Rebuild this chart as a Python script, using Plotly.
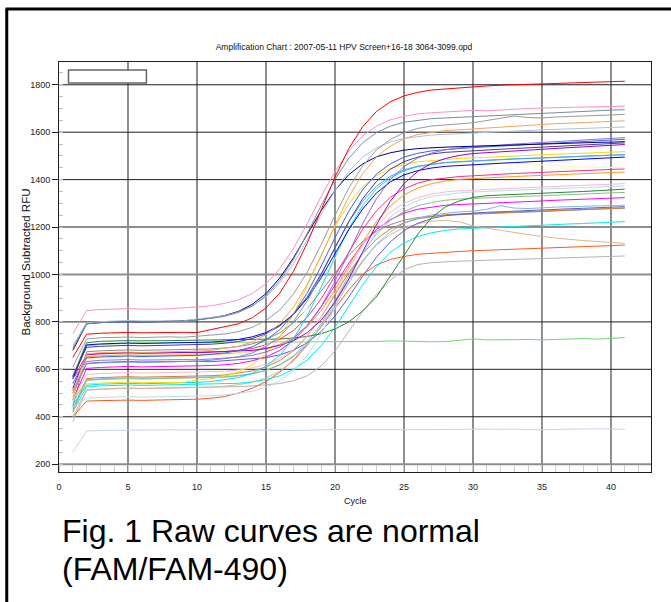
import plotly.graph_objects as go

# ---------------- data ----------------
CYCLES = list(range(1, 42))
X_TICKS = [0, 5, 10, 15, 20, 25, 30, 35, 40]
Y_TICKS = [200, 400, 600, 800, 1000, 1200, 1400, 1600, 1800]
GRAY_GRID_X = [10, 25, 40]
GRAY_GRID_Y = [200, 1000, 1200]

PALESTEEL = [250, 340, 342, 343, 344, 343, 344, 345, 344, 343,
             344, 345, 344, 346, 345, 343, 342, 343, 345, 346,
             345, 346, 347, 346, 345, 346, 347, 348, 347, 347,
             348, 347, 348, 345, 344, 346, 348, 349, 350, 349, 347]
LIGHTGREEN = [560, 700, 705, 708, 710, 712, 711, 713, 714, 712,
              714, 713, 715, 714, 716, 716, 715, 717, 716, 717,
              716, 718, 717, 720, 718, 716, 716, 717, 722, 728,
              724, 723, 725, 726, 724, 726, 727, 730, 727, 729, 734]
SILVER = [380, 512, 516, 519, 520, 519, 520, 521, 520, 522,
          523, 525, 527, 530, 534, 540, 552, 573, 614, 678,
          760, 843, 915, 975, 1020, 1042, 1050, 1054, 1056, 1058,
          1060, 1062, 1064, 1066, 1068, 1070, 1072, 1073, 1075, 1076, 1078]
ORANGERED = [400, 466, 468, 470, 470, 469, 470, 471, 472, 474,
             478, 485, 500, 520, 548, 588, 640, 705, 780, 858,
             935, 1000, 1040, 1063, 1076, 1085, 1090, 1094, 1097, 1100,
             1102, 1104, 1106, 1108, 1110, 1113, 1115, 1117, 1119, 1121, 1124]
TAN = [400, 513, 517, 520, 521, 519, 520, 522, 521, 522,
       525, 529, 535, 546, 563, 592, 636, 700, 784, 880,
       976, 1060, 1124, 1168, 1197, 1214, 1225, 1228, 1222, 1205,
       1195, 1185, 1176, 1168, 1160, 1153, 1148, 1143, 1138, 1134, 1131]
AQUA = [420, 526, 530, 533, 534, 532, 533, 535, 534, 535,
        536, 538, 541, 547, 557, 573, 600, 640, 700, 777,
        867, 956, 1033, 1093, 1133, 1160, 1176, 1186, 1192, 1195,
        1197, 1200, 1203, 1205, 1208, 1210, 1213, 1215, 1218, 1220, 1223]
DARKGRAY = [440, 674, 678, 681, 682, 680, 681, 683, 682, 684,
            686, 690, 696, 707, 726, 754, 797, 856, 929, 1007,
            1080, 1139, 1182, 1210, 1229, 1240, 1246, 1250, 1252, 1255,
            1257, 1259, 1261, 1263, 1266, 1268, 1270, 1273, 1275, 1278, 1280]
PERU = [430, 561, 565, 568, 569, 567, 568, 570, 569, 570,
        573, 576, 583, 593, 610, 637, 679, 741, 821, 914,
        1007, 1087, 1149, 1191, 1218, 1235, 1245, 1252, 1255, 1257,
        1260, 1262, 1264, 1266, 1268, 1270, 1272, 1274, 1276, 1278, 1280]
SLATEBLUE = [510, 625, 629, 632, 633, 631, 632, 634, 633, 634,
             632, 636, 638, 642, 649, 661, 681, 712, 760, 825,
             905, 992, 1072, 1137, 1185, 1216, 1236, 1248, 1255, 1259,
             1262, 1265, 1268, 1270, 1273, 1275, 1277, 1279, 1281, 1284, 1286]
LIGHTSKYBLUE = [460, 556, 560, 563, 564, 562, 563, 565, 564, 565,
                567, 569, 574, 582, 596, 618, 653, 706, 779, 868,
                965, 1054, 1127, 1180, 1215, 1237, 1251, 1259, 1264, 1267,
                1275, 1290, 1280, 1278, 1282, 1284, 1286, 1287, 1289, 1290, 1292]
MAGENTA = [470, 604, 608, 611, 612, 610, 611, 613, 612, 613,
           616, 619, 625, 636, 652, 680, 722, 783, 863, 956,
           1048, 1128, 1189, 1231, 1259, 1275, 1285, 1292, 1295, 1297,
           1300, 1303, 1305, 1308, 1310, 1313, 1315, 1317, 1319, 1322, 1324]
DARKSEAGREEN = [420, 553, 557, 560, 561, 559, 560, 562, 561, 562,
                564, 567, 572, 581, 595, 620, 657, 715, 793, 890,
                995, 1092, 1170, 1228, 1265, 1290, 1304, 1313, 1318, 1321,
                1324, 1326, 1328, 1330, 1332, 1335, 1337, 1339, 1341, 1344, 1346]
DARKGREEN = [570, 712, 718, 720, 721, 720, 722, 721, 722, 723,
             722, 724, 723, 725, 727, 728, 732, 739, 750, 770,
             800, 846, 905, 990, 1080, 1170, 1240, 1285, 1310, 1325,
             1332, 1335, 1337, 1339, 1341, 1344, 1347, 1350, 1353, 1356, 1360]
PALEBLUE = [440, 478, 481, 484, 485, 483, 484, 486, 485, 486,
            488, 492, 498, 507, 524, 552, 594, 659, 749, 859,
            977, 1087, 1177, 1242, 1284, 1312, 1329, 1338, 1344, 1348,
            1351, 1354, 1356, 1358, 1360, 1362, 1365, 1367, 1369, 1371, 1373]
LIGHTPINK = [470, 578, 582, 585, 586, 584, 585, 587, 586, 587,
             589, 592, 597, 606, 621, 645, 683, 742, 821, 920,
             1025, 1124, 1203, 1262, 1300, 1324, 1339, 1348, 1353, 1356,
             1359, 1362, 1364, 1366, 1369, 1371, 1374, 1376, 1378, 1381, 1383]
DARKORANGE = [480, 653, 657, 660, 661, 659, 660, 662, 661, 660,
              663, 665, 669, 676, 687, 705, 735, 781, 848, 935,
              1035, 1136, 1223, 1289, 1335, 1365, 1383, 1394, 1401, 1405,
              1407, 1410, 1413, 1415, 1418, 1420, 1423, 1425, 1427, 1430, 1432]
DEEPPINK = [560, 661, 665, 668, 669, 667, 668, 670, 669, 670,
            672, 675, 680, 688, 703, 727, 764, 820, 897, 993,
            1095, 1191, 1268, 1325, 1361, 1385, 1400, 1408, 1413, 1416,
            1420, 1423, 1426, 1428, 1431, 1434, 1436, 1438, 1440, 1443, 1445]
LEMON = [520, 643, 647, 650, 651, 649, 650, 652, 651, 653,
         656, 660, 667, 680, 700, 733, 784, 858, 954, 1065,
         1176, 1273, 1346, 1397, 1430, 1450, 1463, 1470, 1474, 1476,
         1475, 1472, 1468, 1464, 1460, 1457, 1455, 1453, 1452, 1451, 1450]
CYAN = [450, 533, 537, 540, 541, 539, 540, 542, 541, 545,
        548, 555, 565, 583, 613, 659, 730, 827, 946, 1074,
        1193, 1290, 1361, 1407, 1437, 1455, 1465, 1472, 1475, 1479,
        1482, 1485, 1488, 1490, 1493, 1495, 1497, 1499, 1501, 1503, 1505]
BLUE = [560, 703, 707, 710, 711, 709, 710, 712, 711, 713,
        715, 719, 726, 737, 755, 786, 832, 899, 986, 1088,
        1189, 1276, 1343, 1390, 1420, 1438, 1449, 1456, 1460, 1462,
        1466, 1469, 1472, 1475, 1478, 1481, 1484, 1487, 1490, 1492, 1495]
CORNFLOWER = [500, 623, 627, 630, 631, 629, 630, 632, 631, 634,
              638, 644, 653, 669, 696, 738, 802, 889, 997, 1113,
              1221, 1308, 1372, 1414, 1441, 1457, 1466, 1472, 1476, 1479,
              1481, 1484, 1486, 1489, 1491, 1494, 1496, 1498, 1500, 1503, 1505]
GOLD = [480, 538, 542, 545, 546, 544, 545, 546, 545, 554,
        560, 571, 588, 619, 665, 736, 833, 953, 1082, 1202,
        1299, 1370, 1416, 1447, 1464, 1475, 1481, 1485, 1489, 1492,
        1495, 1497, 1500, 1502, 1505, 1507, 1509, 1512, 1514, 1516, 1518]
DARKVIOLET = [520, 663, 667, 670, 671, 669, 670, 672, 671, 670,
              672, 673, 676, 680, 688, 701, 721, 755, 807, 883,
              981, 1095, 1209, 1308, 1383, 1435, 1469, 1489, 1502, 1510,
              1514, 1517, 1521, 1525, 1528, 1532, 1535, 1538, 1541, 1545, 1548]
DARKSLATEBLUE = [570, 693, 697, 700, 701, 699, 700, 702, 701, 703,
                 706, 710, 717, 730, 750, 783, 833, 906, 1002, 1113,
                 1223, 1319, 1392, 1443, 1476, 1495, 1508, 1515, 1519, 1522,
                 1525, 1528, 1531, 1534, 1537, 1540, 1543, 1546, 1549, 1552, 1555]
ROYALBLUE = [540, 648, 652, 655, 656, 654, 655, 657, 656, 659,
             663, 669, 679, 695, 724, 767, 833, 923, 1035, 1155,
             1267, 1357, 1423, 1466, 1495, 1511, 1521, 1527, 1531, 1535,
             1538, 1541, 1544, 1548, 1551, 1554, 1557, 1560, 1563, 1567, 1570]
MEDIUMPURPLE = [560, 633, 638, 640, 641, 639, 640, 642, 641, 640,
                644, 646, 651, 659, 673, 694, 731, 786, 866, 971,
                1093, 1214, 1319, 1399, 1455, 1491, 1512, 1526, 1534, 1539,
                1542, 1546, 1550, 1553, 1557, 1561, 1564, 1567, 1570, 1574, 1577]
NAVY = [680, 792, 797, 800, 801, 799, 800, 802, 805, 809,
        816, 827, 844, 874, 919, 985, 1071, 1170, 1269, 1355,
        1421, 1466, 1496, 1513, 1524, 1531, 1535, 1537, 1539, 1541,
        1543, 1545, 1547, 1548, 1550, 1552, 1553, 1555, 1557, 1558, 1560]
LIGHTSTEEL = [700, 797, 801, 805, 806, 804, 805, 806, 804, 812,
              818, 826, 841, 867, 905, 965, 1046, 1146, 1254, 1354,
              1435, 1495, 1533, 1559, 1574, 1582, 1588, 1591, 1594, 1597,
              1600, 1603, 1606, 1608, 1610, 1612, 1614, 1616, 1618, 1620, 1622]
SANDYBROWN = [500, 665, 670, 672, 673, 671, 672, 674, 673, 677,
              680, 687, 697, 715, 746, 792, 862, 960, 1079, 1208,
              1327, 1425, 1495, 1541, 1572, 1590, 1600, 1607, 1610, 1614,
              1618, 1622, 1625, 1628, 1632, 1636, 1638, 1640, 1643, 1646, 1648]
GRAY = [610, 728, 733, 735, 736, 734, 736, 737, 735, 740,
        743, 749, 759, 777, 806, 850, 918, 1011, 1126, 1249,
        1364, 1457, 1525, 1569, 1598, 1616, 1626, 1632, 1635, 1640,
        1650, 1660, 1668, 1662, 1660, 1664, 1666, 1668, 1670, 1672, 1675]
SLATEGRAY = [690, 792, 797, 800, 801, 799, 800, 802, 801, 808,
             814, 823, 840, 867, 910, 975, 1064, 1174, 1291, 1401,
             1490, 1555, 1598, 1625, 1642, 1651, 1657, 1660, 1663, 1666,
             1669, 1672, 1675, 1677, 1680, 1682, 1685, 1688, 1690, 1693, 1695]
PINK = [750, 848, 852, 855, 856, 854, 853, 856, 858, 863,
        868, 878, 893, 920, 961, 1024, 1110, 1216, 1329, 1435,
        1521, 1584, 1625, 1652, 1667, 1677, 1682, 1686, 1689, 1692,
        1690, 1694, 1697, 1700, 1702, 1703, 1705, 1706, 1708, 1709, 1710]
RED = [650, 748, 752, 755, 756, 754, 755, 757, 756, 755,
       767, 777, 792, 817, 859, 922, 1014, 1134, 1273, 1411,
       1531, 1623, 1687, 1728, 1753, 1768, 1778, 1783, 1786, 1790,
       1795, 1798, 1800, 1803, 1805, 1806, 1808, 1810, 1812, 1813, 1815]

SERIES = [
    ("PALESTEEL", PALESTEEL), ("LIGHTGREEN", LIGHTGREEN), ("SILVER", SILVER),
    ("ORANGERED", ORANGERED), ("TAN", TAN), ("AQUA", AQUA), ("DARKGRAY", DARKGRAY),
    ("PERU", PERU), ("SLATEBLUE", SLATEBLUE), ("LIGHTSKYBLUE", LIGHTSKYBLUE),
    ("MAGENTA", MAGENTA), ("DARKSEAGREEN", DARKSEAGREEN), ("DARKGREEN", DARKGREEN),
    ("PALEBLUE", PALEBLUE), ("LIGHTPINK", LIGHTPINK), ("DARKORANGE", DARKORANGE),
    ("DEEPPINK", DEEPPINK), ("LEMON", LEMON), ("CYAN", CYAN), ("BLUE", BLUE),
    ("CORNFLOWER", CORNFLOWER), ("GOLD", GOLD), ("DARKVIOLET", DARKVIOLET),
    ("DARKSLATEBLUE", DARKSLATEBLUE), ("ROYALBLUE", ROYALBLUE),
    ("MEDIUMPURPLE", MEDIUMPURPLE), ("NAVY", NAVY), ("LIGHTSTEEL", LIGHTSTEEL),
    ("SANDYBROWN", SANDYBROWN), ("GRAY", GRAY), ("SLATEGRAY", SLATEGRAY),
    ("PINK", PINK), ("RED", RED),
]

# ---------------- styles ----------------
COLORS = {
    "PALESTEEL": "#c4d4e8", "LIGHTGREEN": "#6fd86f", "SILVER": "#b4b4b4",
    "ORANGERED": "#ff5a1e", "TAN": "#d8b890", "AQUA": "#00eeee", "DARKGRAY": "#8c8c8c",
    "PERU": "#cd7f3a", "SLATEBLUE": "#6a5acd", "LIGHTSKYBLUE": "#7ab8f5",
    "MAGENTA": "#ff00ff", "DARKSEAGREEN": "#8fbc8f", "DARKGREEN": "#2a8a2a",
    "PALEBLUE": "#b8dcea", "LIGHTPINK": "#ffb6c8", "DARKORANGE": "#ff9a1a",
    "DEEPPINK": "#ff2a8a", "LEMON": "#fff5b0", "CYAN": "#00e0ff", "BLUE": "#0000ff",
    "CORNFLOWER": "#6495ed", "GOLD": "#ffd700", "DARKVIOLET": "#9400d3",
    "DARKSLATEBLUE": "#483d8b", "ROYALBLUE": "#3c64e6", "MEDIUMPURPLE": "#9370db",
    "NAVY": "#00007f", "LIGHTSTEEL": "#a9c2de", "SANDYBROWN": "#f4a460",
    "GRAY": "#9a9a9a", "SLATEGRAY": "#7a8ca0", "PINK": "#ff8fc8", "RED": "#ff0000",
}

W, H = 671, 602
L, R, T, B = 58.5, 20, 62, 130
PW, PH = W - L - R, H - T - B


def px_x(px):
    return (px - L) / PW


def px_y(py):
    return (H - B - py) / PH


FONT = "Liberation Sans, Arial, Helvetica, sans-serif"
DARK = "#1e1e1e"
GRAYLINE = "#8e8e8e"

fig = go.Figure()
for name, vals in SERIES:
    fig.add_trace(go.Scatter(x=CYCLES, y=vals, mode="lines", name=name,
                             line=dict(color=COLORS[name], width=1),
                             hoverinfo="skip", showlegend=False))

fig.update_layout(
    width=W, height=H,
    margin=dict(l=L, r=R, t=T, b=B, pad=0, autoexpand=False),
    paper_bgcolor="white", plot_bgcolor="white",
    font=dict(family=FONT, color="#111111"),
    showlegend=False,
    title=dict(text="Amplification Chart : 2007-05-11 HPV Screen+16-18 3064-3099.opd",
               x=344 / W, xref="container", xanchor="center",
               y=1 - 47 / H, yref="container", yanchor="middle",
               font=dict(size=8.5, family=FONT, color="#111111")),
    xaxis=dict(range=[0, 42.9], tickvals=X_TICKS, ticks="",
               showgrid=False, zeroline=False,
               showline=True, linecolor=DARK, linewidth=1, mirror=True,
               tickfont=dict(size=9, color="#222222"), ticklabelstandoff=6,
               minor=dict(ticks="inside", dtick=1, tick0=0, ticklen=7,
                          tickcolor="#cfcfcf", tickwidth=1, showgrid=False)),
    yaxis=dict(range=[167, 1896], tickvals=Y_TICKS, ticks="outside", ticklen=6,
               tickcolor=DARK, tickwidth=1,
               showgrid=False, zeroline=False,
               showline=True, linecolor=DARK, linewidth=1, mirror=True,
               tickfont=dict(size=9, color="#222222"),
               minor=dict(ticks="inside", dtick=50, tick0=0, ticklen=4,
                          tickcolor="#c0c0c0", tickwidth=1, showgrid=False)),
)

# gridlines: thin dark ones, plus wider grey ones at every third step
for gx in X_TICKS[1:]:
    gray = gx in GRAY_GRID_X
    fig.add_shape(type="line", xref="x", yref="paper", x0=gx, x1=gx, y0=0, y1=1,
                  line=dict(color=GRAYLINE if gray else DARK, width=2 if gray else 1),
                  layer="below")
for gy in Y_TICKS:
    gray = gy in GRAY_GRID_Y
    fig.add_shape(type="line", xref="paper", yref="y", x0=0, x1=1, y0=gy, y1=gy,
                  line=dict(color=GRAYLINE if gray else DARK, width=2 if gray else 1),
                  layer="below")

# empty legend box
fig.add_shape(type="rect", xref="paper", yref="paper",
              x0=px_x(68), x1=px_x(146), y0=px_y(83), y1=px_y(70),
              line=dict(color="#666666", width=1.5), fillcolor="white", layer="above")

# page frame
fig.add_shape(type="line", xref="paper", yref="paper",
              x0=px_x(5), x1=px_x(680), y0=px_y(9), y1=px_y(9),
              line=dict(color="black", width=3), layer="above")
fig.add_shape(type="line", xref="paper", yref="paper",
              x0=px_x(6.2), x1=px_x(6.2), y0=px_y(9), y1=px_y(615),
              line=dict(color="black", width=3), layer="above")

fig.add_annotation(text="Background Subtracted RFU", textangle=-90,
                   xref="paper", yref="paper", x=px_x(25), y=px_y(262),
                   xanchor="center", yanchor="middle", showarrow=False,
                   font=dict(size=11.5, family=FONT, color="#111111"))
fig.add_annotation(text="Cycle", xref="paper", yref="paper", x=px_x(355), y=px_y(501),
                   xanchor="center", yanchor="middle", showarrow=False,
                   font=dict(size=9, family=FONT, color="#111111"))
fig.add_annotation(text="Fig. 1 Raw curves are normal", xref="paper", yref="paper",
                   x=px_x(60), y=px_y(531), xanchor="left", yanchor="middle",
                   showarrow=False, font=dict(size=32, family=FONT, color="black"))
fig.add_annotation(text="(FAM/FAM-490)", xref="paper", yref="paper",
                   x=px_x(60), y=px_y(569), xanchor="left", yanchor="middle",
                   showarrow=False, font=dict(size=32, family=FONT, color="black"))

fig.write_html("out.html")
